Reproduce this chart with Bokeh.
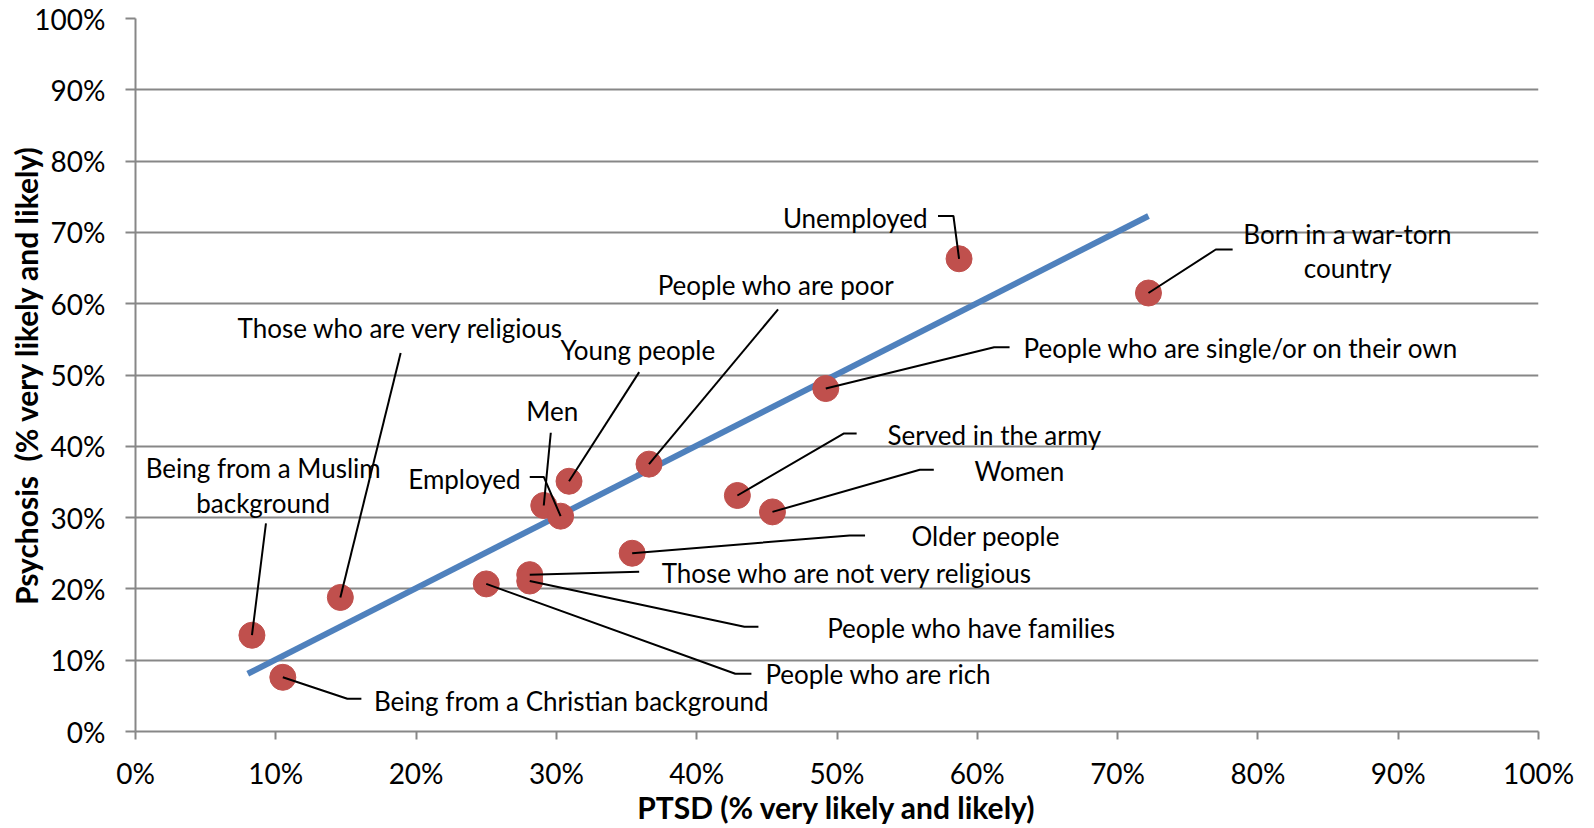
from bokeh.plotting import figure
from bokeh.models import FixedTicker, PrintfTickFormatter, Range1d
from bokeh.embed import file_html
from bokeh.resources import INLINE
from bokeh.core.properties import value

# ---------------- data ----------------
categories = [
    "Being from a Muslim background", "Being from a Christian background",
    "Those who are very religious", "People who are rich",
    "Those who are not very religious", "People who have families",
    "Men", "Employed", "Young people", "People who are poor",
    "Older people", "Served in the army", "Women",
    "People who are single/or on their own", "Unemployed",
    "Born in a war-torn country",
]
ptsd = [8.3, 10.5, 14.6, 25.0, 28.1, 28.1, 29.1, 30.3, 30.9, 36.6,
        35.4, 42.9, 45.4, 49.2, 58.7, 72.2]
psychosis = [13.5, 7.6, 18.8, 20.7, 22.0, 21.1, 31.7, 30.2, 35.1, 37.5,
             25.0, 33.1, 30.8, 48.1, 66.3, 61.5]
trend_x = [8.0, 72.2]
trend_y = [8.1, 72.3]
x_ticks = [0, 10, 20, 30, 40, 50, 60, 70, 80, 90, 100]
y_ticks = [0, 10, 20, 30, 40, 50, 60, 70, 80, 90, 100]
x_title = "PTSD (% very likely and likely)"
y_title = "Psychosis\u00a0 (% very likely and likely)"

# ---------------- label layout (positions only) ----------------
label_layout = {
    "Being from a Muslim background": dict(lines=["Being from a Muslim", "background"], x=9.1, y=36.9, align="center", path=[(9.3, 29.2)]),
    "Being from a Christian background": dict(lines=["Being from a Christian background"], x=17.0, y=4.3, align="left", path=[(16.1, 4.6), (15.1, 4.6)]),
    "Those who are very religious": dict(lines=["Those who are very religious"], x=18.9, y=56.6, align="center", path=[(18.9, 53.1)]),
    "People who are rich": dict(lines=["People who are rich"], x=44.9, y=8.0, align="left", path=[(43.9, 8.1), (42.75, 8.1)]),
    "Those who are not very religious": dict(lines=["Those who are not very religious"], x=37.5, y=22.25, align="left", path=[(35.9, 22.4)]),
    "People who have families": dict(lines=["People who have families"], x=49.3, y=14.55, align="left", path=[(44.4, 14.7), (43.4, 14.7)]),
    "Men": dict(lines=["Men"], x=29.7, y=44.9, align="center", path=[(29.6, 41.9)]),
    "Employed": dict(lines=["Employed"], x=27.45, y=35.4, align="right", path=[(28.1, 35.7), (29.1, 35.7)]),
    "Young people": dict(lines=["Young people"], x=35.8, y=53.5, align="center", path=[(35.9, 50.4)]),
    "People who are poor": dict(lines=["People who are poor"], x=45.65, y=62.6, align="center", path=[(45.8, 59.2)]),
    "Older people": dict(lines=["Older people"], x=60.6, y=27.4, align="center", path=[(52.0, 27.5), (50.9, 27.5)]),
    "Served in the army": dict(lines=["Served in the army"], x=53.6, y=41.65, align="left", path=[(51.4, 41.8), (50.5, 41.8)]),
    "Women": dict(lines=["Women"], x=63.0, y=36.5, align="center", path=[(56.9, 36.7), (55.9, 36.7)]),
    "People who are single/or on their own": dict(lines=["People who are single/or on their own"], x=63.3, y=53.8, align="left", path=[(62.3, 53.9), (61.2, 53.9)]),
    "Unemployed": dict(lines=["Unemployed"], x=51.3, y=72.0, align="center", path=[(57.2, 72.3), (58.3, 72.3)]),
    "Born in a war-torn country": dict(lines=["Born in a war-torn", "country"], x=86.4, y=69.8, align="center", path=[(78.2, 67.6), (77.0, 67.6)]),
}
LINE_STEP = 4.85

FONT = "Lato"
GRID = "#878787"

p = figure(width=1594, height=828, output_backend="svg", toolbar_location=None,
           x_range=Range1d(0, 100), y_range=Range1d(0, 100),
           min_border_left=135, min_border_right=56, min_border_top=18, min_border_bottom=97)
p.outline_line_color = None
p.background_fill_color = "white"
p.border_fill_color = "white"

for ax, ticks in ((p.xaxis[0], x_ticks), (p.yaxis[0], y_ticks)):
    ax.ticker = FixedTicker(ticks=ticks)
    ax.formatter = PrintfTickFormatter(format="%d%%")
    ax.axis_line_color = GRID
    ax.axis_line_width = 2
    ax.major_tick_line_color = GRID
    ax.major_tick_line_width = 2
    ax.major_tick_in = 0
    ax.minor_tick_line_color = None
    ax.major_label_text_font = FONT
    ax.major_label_text_font_size = "28px"
    ax.major_label_text_color = "black"
    ax.axis_label_text_font = FONT
    ax.axis_label_text_font_style = "bold"
    ax.axis_label_text_font_size = "30px"
    ax.axis_label_text_color = "black"

p.xaxis.major_tick_out = 8
p.yaxis.major_tick_out = 10
p.xaxis.major_label_standoff = 16
p.yaxis.major_label_standoff = 20
p.xaxis.axis_label = x_title
p.yaxis.axis_label = y_title
p.xaxis.axis_label_standoff = -4
p.yaxis.axis_label_standoff = -13

p.xgrid.grid_line_color = None
p.ygrid.ticker = FixedTicker(ticks=y_ticks)
p.ygrid.grid_line_color = GRID
p.ygrid.grid_line_width = 2

# trend line
p.line(trend_x, trend_y, line_color="#4F81BD", line_width=6)

# leader lines
xs, ys = [], []
for cat, px, py in zip(categories, ptsd, psychosis):
    lay = label_layout[cat]
    pts = lay["path"] + [(px, py)]
    xs.append([q[0] for q in pts])
    ys.append([q[1] for q in pts])

# points
p.scatter(ptsd, psychosis, size=26, fill_color="#C0504D", line_color="#C0504D")

# leaders drawn on top of the points
p.multi_line(xs, ys, line_color="black", line_width=2)

# labels
for align in ("left", "center", "right"):
    tx, ty, tt = [], [], []
    for cat in categories:
        lay = label_layout[cat]
        if lay["align"] != align:
            continue
        for i, line in enumerate(lay["lines"]):
            tx.append(lay["x"])
            ty.append(lay["y"] - i * LINE_STEP)
            tt.append(line)
    if tt:
        p.text(x=tx, y=ty, text=tt, text_align=align, text_baseline="middle",
               text_font=value(FONT), text_font_size="26px", text_color="black")

open("out.html", "w").write(file_html(p, INLINE))
